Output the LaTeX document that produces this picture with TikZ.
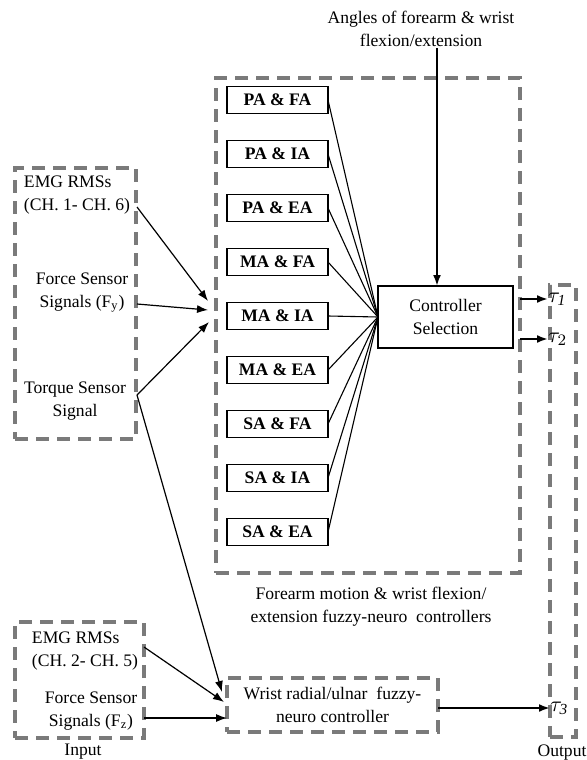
\documentclass[tikz,border=0pt]{standalone}
\usepackage{fontspec}
\setmainfont{Liberation Serif}
\usetikzlibrary{arrows.meta}
\begin{document}
\begin{tikzpicture}[x=0.5pt,y=-0.5pt,
  every node/.style={font=\fontsize{8.8}{11.5}\selectfont, inner sep=0pt, outer sep=0pt},
  dbox/.style={draw=black!52, line width=1.6pt, dash pattern=on 6.5pt off 4pt},
  fbox/.style={draw=black, line width=0.6pt, minimum width=50.5pt, minimum height=13.5pt, font=\fontsize{8.8}{10}\selectfont\bfseries},
  cbox/.style={draw=black, line width=0.6pt, minimum width=67.5pt, minimum height=31pt, align=center},
  thin/.style={line width=0.55pt},
  arr/.style={line width=0.6pt, -{Latex[length=5.5pt,width=4pt]}},
  tarr/.style={line width=1.1pt, -{Latex[length=5.5pt,width=4pt]}},
  txt/.style={align=center},
  tau/.style={anchor=west, font=\fontsize{11}{11}\selectfont}
]
\useasboundingbox (0,0) rectangle (586,760);

% dashed containers
\node[dbox, minimum width=152pt, minimum height=247.5pt] (big) at (368,325.5) {};
\node[dbox, minimum width=13pt, minimum height=226pt] (out) at (563,511) {};
\node[dbox, minimum width=60.5pt, minimum height=135.5pt] (in1) at (75.5,303.5) {};
\node[dbox, minimum width=64.5pt, minimum height=58pt] (in2) at (79.5,680) {};
\node[dbox, minimum width=105.5pt, minimum height=27pt, align=center] (wrist) at (332.5,705) {Wrist radial/ulnar\ \ fuzzy-\\neuro controller};

% fuzzy-neuro boxes
\node[fbox] (b1) at (277.5,100) {PA \& FA};
\node[fbox] (b2) at (277.5,154) {PA \& IA};
\node[fbox] (b3) at (277.5,208) {PA \& EA};
\node[fbox] (b4) at (277.5,262) {MA \& FA};
\node[fbox] (b5) at (277.5,316) {MA \& IA};
\node[fbox] (b6) at (277.5,370) {MA \& EA};
\node[fbox] (b7) at (277.5,424) {SA \& FA};
\node[fbox] (b8) at (277.5,478) {SA \& IA};
\node[fbox] (b9) at (277.5,532) {SA \& EA};

\node[cbox] (ctrl) at (445.5,317) {Controller\\Selection};
\coordinate (conv) at (ctrl.west);
\foreach \i in {1,...,9} { \draw[thin] (b\i.east) -- (conv); }

% angles input
\node[txt] (ang) at (421,29) {Angles of forearm \& wrist\\flexion/extension};
\coordinate (angtop) at (437,48);
\draw[tarr] (angtop) -- (angtop |- ctrl.north);

% left inputs (box 1)
\node[align=left, anchor=west] (emg1) at (24,195.5) {EMG RMSs\\(CH. 1- CH. 6)};
\node[txt] (fs1) at (82,292.5) {Force Sensor\\Signals (F\textsubscript{y})};
\node[txt] (tq) at (75,401.5) {Torque Sensor\\Signal};
\coordinate (e1s) at (137,207);
\coordinate (f1s) at (137,304);
\coordinate (tqs) at (137,395);
\coordinate (e1t) at (208,301);
\coordinate (f1t) at (208,310);
\coordinate (tqt) at (209,322);
\draw[arr] (e1s) -- (e1t);
\draw[arr] (f1s) -- (f1t);
\draw[arr] (tqs) -- (tqt);
\coordinate (tq2t) at (222,692);
\draw[arr] (tqs) -- (tq2t);

% left inputs (box 2)
\node[align=left, anchor=west] (emg2) at (32,651) {EMG RMSs\\(CH. 2- CH. 5)};
\node[txt] (fs2) at (91,711.5) {Force Sensor\\Signals (F\textsubscript{z})};
\node (inlab) at (83,752) {Input};
\coordinate (e2s) at (144,647);
\coordinate (e2t) at (224,702);
\coordinate (f2s) at (144,718);
\draw[arr] (e2s) -- (e2t);
\draw[arr] (f2s) -- (f2s -| wrist.west);

% caption
\node[txt] (cap) at (371,607) {Forearm motion \& wrist flexion/\\extension fuzzy-neuro\ \ controllers};

% outputs
\node[tau] (t1) at (548,299) {$\tau_{\mathit{1}}$};
\node[tau] (t2) at (548,339) {$\tau_2$};
\node[tau] (t3) at (550,708) {$\tau_{\mathit{3}}$};
\node (outlab) at (562,753) {Output};
\draw[tarr] (big.east |- t1) -- (t1.west);
\draw[tarr] (big.east |- t2) -- (t2.west);
\draw[tarr] (wrist.east |- t3) -- (t3.west);
\end{tikzpicture}
\end{document}
